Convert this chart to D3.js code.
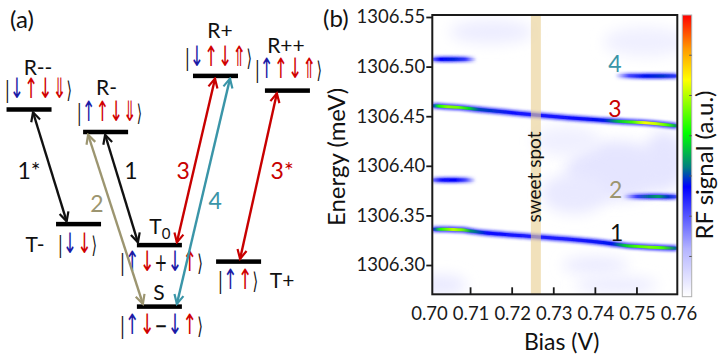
<!DOCTYPE html>
<html><head><meta charset="utf-8">
<script src="https://cdn.jsdelivr.net/npm/d3@7/dist/d3.min.js"></script>
<style>
body{margin:0;background:#fff;}
svg{display:block;font-family:Lato,"DejaVu Sans",sans-serif;}
</style></head><body>
<svg id="c" width="718" height="360"></svg>
<script>
// ================= DATA: panel (a) energy-level diagram =================
const levelNames  = ["R--","R-","R+","R++","T-","T0","S","T+"];
const levelEnergy = [73.5, 66.0, 84.7, 79.8, 35.3, 28.3, 7.8, 22.8];   // arbitrary energy units
const levelColumn = [8.8, 32.0, 65.3, 87.1, 23.8, 48.3, 48.3, 72.3];   // diagram column (0-100)
const levelKets   = ["|↓↑↓⇓⟩","|↑↑↓⇓⟩","|↓↑↓⇑⟩","|↑↑↓⇑⟩","|↓↓⟩","|↑↓+↓↑⟩","|↑↓−↓↑⟩","|↑↑⟩"];
const ketColorKeys= ["kbrrrk","kbrrrk","kbrrrk","kbrrrk","kbrk","kbrkbrk","kbrkbrk","kbrk"];

const transFrom   = ["R--","R-","R-","R+","R+","R++"];
const transTo     = ["T-","S","T0","T0","S","T+"];
const transLabel  = ["1*","2","1","3","4","3*"];
const transColor  = ["k","o","k","r","t","r"];

// ================= DATA: panel (b) RF signal map =================
const biasDomain   = [0.7008, 0.7597];
const energyDomain = [1306.2705, 1306.552];
const xTickValues  = [0.70, 0.71, 0.72, 0.73, 0.74, 0.75, 0.76];
const yTickValues  = [1306.30, 1306.35, 1306.40, 1306.45, 1306.50, 1306.55];
const sweetSpot    = [0.7245, 0.7269];
const colorbarTicks= [1/7, 2/7, 3/7, 4/7, 5/7, 6/7];

// transition lines: [bias (V), energy (meV), RF intensity 0..1]
const line3 = [[0.7008,1306.4605,0.38],[0.7022,1306.4603,0.58],[0.7045,1306.4596,0.68],[0.7070,1306.4589,0.66],
               [0.7095,1306.4579,0.55],[0.7120,1306.4568,0.43],[0.7200,1306.4535,0.37],[0.7257,1306.4512,0.36],
               [0.7350,1306.4480,0.37],[0.7420,1306.4458,0.40],[0.7455,1306.4448,0.52],[0.7490,1306.4441,0.63],
               [0.7520,1306.4434,0.77],[0.7548,1306.4424,0.72],[0.7575,1306.4411,0.62],[0.7597,1306.4402,0.46]];
const line1 = [[0.7008,1306.3360,0.38],[0.7028,1306.3360,0.60],[0.7058,1306.3359,0.72],[0.7080,1306.3355,0.66],
               [0.7100,1306.3342,0.48],[0.7140,1306.3323,0.38],[0.7257,1306.3286,0.35],[0.7350,1306.3255,0.36],
               [0.7440,1306.3215,0.40],[0.7470,1306.3198,0.53],[0.7500,1306.3188,0.63],[0.7530,1306.3180,0.67],
               [0.7560,1306.3173,0.63],[0.7597,1306.3168,0.44]];
const line4a = [[0.7008,1306.5074,0.26],[0.7028,1306.5075,0.39],[0.7060,1306.5074,0.41],[0.7088,1306.5073,0.32],[0.7110,1306.5072,0.08]];
const line4b = [[0.7452,1306.4908,0.06],[0.7480,1306.4907,0.30],[0.7520,1306.4906,0.40],[0.7560,1306.4905,0.42],[0.7597,1306.4904,0.32]];
const line2a = [[0.7008,1306.3857,0.24],[0.7030,1306.3858,0.37],[0.7062,1306.3857,0.39],[0.7088,1306.3856,0.30],[0.7108,1306.3855,0.08]];
const line2b = [[0.7468,1306.3692,0.06],[0.7500,1306.3691,0.32],[0.7530,1306.3690,0.45],[0.7552,1306.3690,0.49],[0.7575,1306.3689,0.42],[0.7597,1306.3688,0.30]];

// faint background signal: [bias, energy, intensity, bias spread, energy spread]
const haze = [[0.7450,1306.395,0.06,0.012,0.030],[0.7565,1306.405,0.06,0.005,0.030],[0.7350,1306.372,0.05,0.008,0.020],
              [0.7400,1306.300,0.05,0.008,0.008],[0.7150,1306.535,0.04,0.010,0.012],[0.7520,1306.525,0.035,0.010,0.015],
              [0.7450,1306.280,0.045,0.010,0.008],[0.7030,1306.280,0.05,0.006,0.010],[0.7330,1306.425,0.035,0.008,0.015]];

// labels of transitions in (b): [label, bias, energy]
const mapLabels = [["4",0.7447,1306.5036],["3",0.7447,1306.4583],["2",0.7449,1306.3766],["1",0.7451,1306.3333]];

// ================= STYLE / LAYOUT =================
const colors = {k:"#111111", o:"#9c9570", r:"#c80000", t:"#3a95a8", b:"#1a1aa6"};
const ketFill = {k:"#111111", b:"#1a1aa6", r:"#d00000"};
const layout = {   // label / ket placement relative to the level bar
  "R--":{lx:9,ly:-34.5,kx:9.5,ky:-11.5,kw:67},
  "R-": {lx:1,ly:-37,kx:4,ky:-11,kw:65},
  "R+": {lx:4.5,ly:-38,kx:3,ky:-10,kw:67},
  "R++":{lx:-1.5,ly:-37.5,kx:1,ky:-12.5,kw:67},
  "T-": {lx:-43.5,ly:28,kx:-1,ky:28.5,kw:39},
  "T0": {lx:0.5,ly:-11,kx:2,ky:25.5,kw:83},
  "S":  {lx:-0.5,ly:-6.5,kx:2,ky:27,kw:83},
  "T+": {lx:43.5,ly:26.5,kx:-0.5,ky:27,kw:40}
};
const transFromOff = [1.2,-5.3,-0.15,-0.15,4.4,-3.2];
const transToOff   = [-3.6,-5.0,-6.5,5.3,5.3,0.45];
const transLabelPos= [[8.8,53.3],[29.4,42.3],[39.7,53.3],[55.5,53.3],[65.2,43.3],[85.5,53.3]];

const svg = d3.select("#c");
const defs = svg.append("defs");

// ---------------- Panel (a) ----------------
const xA = d3.scaleLinear().domain([0,100]).range([0,330]);
const yA = d3.scaleLinear().domain([0,100]).range([330,30]);
const barW = 45, barH = 4.5;

Object.keys(colors).forEach(c=>{
  const m = defs.append("marker").attr("id","ah-"+c)
    .attr("viewBox","-11 -7 13 14").attr("refX",0).attr("refY",0)
    .attr("markerWidth",13).attr("markerHeight",14).attr("markerUnits","userSpaceOnUse")
    .attr("orient","auto-start-reverse");
  m.append("path").attr("d","M-9,-4.6 L0,0 L-9,4.6").attr("fill","none")
    .attr("stroke",colors[c]).attr("stroke-width",2.2);
});

svg.append("text").attr("x",10).attr("y",28).attr("font-size",24).attr("fill","#111").text("(a)");

const gA = svg.append("g");
const lv = name => levelNames.indexOf(name);

levelNames.forEach((n,i)=>{
  const cx = xA(levelColumn[i]), cy = yA(levelEnergy[i]);
  gA.append("rect").attr("x",cx-barW/2).attr("y",cy-barH/2).attr("width",barW).attr("height",barH).attr("fill","#000");
  const L = layout[n];
  const t = gA.append("text").attr("x",cx+L.lx).attr("y",cy+L.ly).attr("text-anchor","middle")
    .attr("font-size",21).attr("fill","#111");
  if (n==="T0"){ t.text("T"); t.append("tspan").attr("font-size",15).attr("dy",5).text("0"); }
  else t.text(n);
  const k = gA.append("text").attr("x",cx+L.kx-L.kw/2).attr("y",cy+L.ky)
    .attr("font-family","'DejaVu Sans'")
    .attr("textLength",L.kw).attr("lengthAdjust","spacingAndGlyphs");
  Array.from(levelKets[i]).forEach((ch,j)=>{
    const isArrow = "↑↓⇑⇓".includes(ch);
    k.append("tspan").attr("fill",ketFill[ketColorKeys[i][j]])
      .attr("font-size",isArrow?28:(ch==="|"||ch==="⟩"?23:24)).text(ch);
  });
});

transFrom.forEach((f,i)=>{
  const a = lv(f), b = lv(transTo[i]);
  const x1 = xA(levelColumn[a]+transFromOff[i]), y1 = yA(levelEnergy[a])+barH/2+0.5;
  const x2 = xA(levelColumn[b]+transToOff[i]),   y2 = yA(levelEnergy[b])-barH/2-0.5;
  gA.append("line").attr("x1",x1).attr("y1",y1).attr("x2",x2).attr("y2",y2)
    .attr("stroke",colors[transColor[i]]).attr("stroke-width",2.4)
    .attr("marker-start","url(#ah-"+transColor[i]+")").attr("marker-end","url(#ah-"+transColor[i]+")");
  gA.append("text").attr("x",xA(transLabelPos[i][0])).attr("y",yA(transLabelPos[i][1]))
    .attr("text-anchor","middle").attr("dominant-baseline","central")
    .attr("font-size",23).attr("fill",colors[transColor[i]]).text(transLabel[i]);
});

// ---------------- Panel (b) ----------------
const X0=432.3, X1=677.3, Y0=15, Y1=294.3;
const xB = d3.scaleLinear().domain(biasDomain).range([X0,X1]);
const yB = d3.scaleLinear().domain(energyDomain).range([Y1,Y0]);
const cStops = [0,.17,.39,.46,.58,.77,.88,1];
const cCols  = ["#ffffff","#b4b4ff","#0000ff","#007f80","#00ff00","#ffff00","#ff9900","#ff0000"];
const cScale = d3.scaleLinear().domain(cStops).range(cCols).clamp(true);

svg.append("text").attr("x",323).attr("y",27).attr("font-size",24).attr("fill","#111").text("(b)");

defs.append("clipPath").attr("id","plotclip").append("rect").attr("x",X0).attr("y",Y0).attr("width",X1-X0).attr("height",Y1-Y0);
function mkFilter(id, sd){
  defs.append("filter").attr("id",id).attr("filterUnits","userSpaceOnUse")
    .attr("x",X0-40).attr("y",Y0-40).attr("width",X1-X0+80).attr("height",Y1-Y0+80)
    .append("feGaussianBlur").attr("stdDeviation",sd);
}
mkFilter("bigblur","7");
mkFilter("halo","2.3 1.5");
mkFilter("core","1.3 0.6");

const gB = svg.append("g").attr("clip-path","url(#plotclip)");
gB.append("rect").attr("x",X0).attr("y",Y0).attr("width",X1-X0).attr("height",Y1-Y0).attr("fill","#fff");

gB.selectAll("ellipse.h").data(haze).join("ellipse").attr("class","h")
  .attr("cx",d=>xB(d[0])).attr("cy",d=>yB(d[1]))
  .attr("rx",d=>xB(d[0]+d[3])-xB(d[0])).attr("ry",d=>yB(d[1])-yB(d[1]+d[4]))
  .attr("fill",d=>cScale(d[2])).attr("filter","url(#bigblur)");

const lineGen = d3.line().x(d=>xB(d[0])).y(d=>yB(d[1])).curve(d3.curveMonotoneX);
[line3,line1,line4a,line4b,line2a,line2b].forEach((L,li)=>{
  const xa = xB(L[0][0]), xb = xB(L[L.length-1][0]);
  ["halo","core"].forEach(kind=>{
    const id = "g"+li+kind;
    const gr = defs.append("linearGradient").attr("id",id).attr("gradientUnits","userSpaceOnUse")
      .attr("x1",xa).attr("x2",xb).attr("y1",0).attr("y2",0);
    L.forEach(p=>{
      const v = kind==="halo" ? Math.min(p[2]*0.95,0.37) : p[2];
      gr.append("stop").attr("offset",(xB(p[0])-xa)/(xb-xa)).attr("stop-color",cScale(v));
    });
    gB.append("path").attr("d",lineGen(L)).attr("fill","none")
      .attr("stroke","url(#"+id+")")
      .attr("stroke-width",kind==="halo"?5.5:3)
      .attr("stroke-linecap","butt")
      .attr("opacity",kind==="halo"?0.9:1)
      .attr("filter","url(#"+(kind==="halo"?"halo":"core")+")");
  });
});

// sweet spot band
gB.append("rect").attr("x",xB(sweetSpot[0])).attr("y",Y0).attr("width",xB(sweetSpot[1])-xB(sweetSpot[0])).attr("height",Y1-Y0)
  .attr("fill","#e8cf92").attr("opacity",0.62);
const ssx = (xB(sweetSpot[0])+xB(sweetSpot[1]))/2 + 5;
svg.append("text").attr("transform",`translate(${ssx},177) rotate(-90)`).attr("text-anchor","middle")
  .attr("font-size",19).attr("fill","#111").text("sweet spot");

// transition labels
svg.selectAll("text.ml").data(mapLabels).join("text").attr("class","ml")
  .attr("x",d=>xB(d[1])).attr("y",d=>yB(d[2])).attr("text-anchor","middle").attr("dominant-baseline","central")
  .attr("font-size",23).attr("fill",(d,i)=>[colors.t,colors.r,colors.o,colors.k][i]).text(d=>d[0]);

// frame
svg.append("rect").attr("x",X0).attr("y",Y0).attr("width",X1-X0).attr("height",Y1-Y0)
  .attr("fill","none").attr("stroke","#1a1a1a").attr("stroke-width",2);

// y axis
const yAx = svg.append("g").attr("transform",`translate(${X0},0)`)
  .call(d3.axisLeft(yB).tickValues(yTickValues).tickSize(6).tickPadding(1).tickFormat(d3.format(".2f")));
yAx.select(".domain").remove();
yAx.selectAll("line").attr("stroke","#1a1a1a").attr("stroke-width",1.8);
yAx.selectAll("text").attr("font-size",18.5).attr("font-family","Lato").attr("fill","#1a1a1a");

// x axis (labels) + inward ticks
const xAx = svg.append("g").attr("transform",`translate(0,${Y1})`)
  .call(d3.axisBottom(xB).tickValues(xTickValues).tickSize(0).tickFormat(d3.format(".2f")));
xAx.select(".domain").remove();
xAx.selectAll("text").attr("y",26).attr("dy",null).attr("font-size",18.5).attr("font-family","Lato").attr("fill","#1a1a1a");
svg.selectAll("line.xt").data(xTickValues.filter(v=>v>biasDomain[0]+1e-4 && v<biasDomain[1]-1e-4)).join("line").attr("class","xt")
  .attr("x1",d=>xB(d)).attr("x2",d=>xB(d)).attr("y1",Y1).attr("y2",Y1-7)
  .attr("stroke","#1a1a1a").attr("stroke-width",1.8);

// axis titles
svg.append("text").attr("x",561.7).attr("y",350).attr("text-anchor","middle").attr("font-size",23).attr("fill","#111").text("Bias (V)");
svg.append("text").attr("transform","translate(345,157) rotate(-90)").attr("text-anchor","middle").attr("font-size",24).attr("fill","#111").text("Energy (meV)");

// colorbar
const CB0=682.3, CB1=691.7, CBT=15, CBB=296.7;
const cbg = defs.append("linearGradient").attr("id","cbar").attr("x1",0).attr("x2",0).attr("y1",1).attr("y2",0);
cStops.forEach((s,i)=>cbg.append("stop").attr("offset",s).attr("stop-color",cCols[i]));
svg.append("rect").attr("x",CB0).attr("y",CBT).attr("width",CB1-CB0).attr("height",CBB-CBT)
  .attr("fill","url(#cbar)").attr("stroke","#b0b0b0").attr("stroke-width",1);
const cbY = d3.scaleLinear().domain([0,1]).range([CBT,CBB]);
svg.selectAll("line.cbt").data(colorbarTicks).join("line").attr("class","cbt")
  .attr("x1",CB1-2.5).attr("x2",CB1).attr("y1",d=>cbY(d)).attr("y2",d=>cbY(d))
  .attr("stroke","#555").attr("stroke-width",1);
svg.append("text").attr("transform","translate(713,165) rotate(-90)").attr("text-anchor","middle")
  .attr("font-size",24).attr("fill","#111").text("RF signal (a.u.)");
</script>
</body></html>
